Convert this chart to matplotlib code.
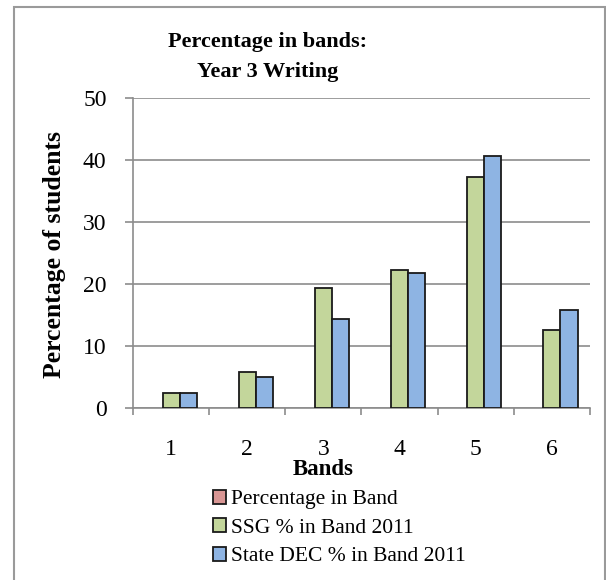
import matplotlib
matplotlib.use("Agg")
import matplotlib.pyplot as plt
from matplotlib.patches import Rectangle
import numpy as np

# Data
bands = ["1", "2", "3", "4", "5", "6"]
series_names = ["Percentage in Band", "SSG % in Band 2011", "State DEC % in Band 2011"]
pct_in_band = [0, 0, 0, 0, 0, 0]
ssg_2011 = [2.4, 5.8, 19.3, 22.2, 37.3, 12.6]
state_dec_2011 = [2.4, 5.0, 14.4, 21.7, 40.7, 15.8]
y_ticks = [0, 10, 20, 30, 40, 50]

colors = ["#D99694", "#C3D69B", "#8EB4E3"]
FONT = "Liberation Serif"
plt.rcParams["font.family"] = FONT

W, H = 606, 580
fig = plt.figure(figsize=(W / 100, H / 100), dpi=100)
fig.patch.set_facecolor("white")

# outer chart frame
fig.add_artist(Rectangle((14 / W, -0.05), (605 - 14) / W, 1.05 - 7 / H,
                         transform=fig.transFigure, fill=False,
                         edgecolor="#9a9a9a", linewidth=1.5))

ax = fig.add_axes([133 / W, (H - 408) / H, (590 - 133) / W, (408 - 98) / H])
x = np.arange(len(bands))
w = 0.224
all_series = [pct_in_band, ssg_2011, state_dec_2011]
for i, (vals, c, name) in enumerate(zip(all_series, colors, series_names)):
    lw = 1.3 if any(v > 0 for v in vals) else 0
    ax.bar(x + (i - 1) * w, vals, width=w, color=c, edgecolor="#1a1a1a",
           linewidth=lw, label=name, zorder=3)

ax.set_xlim(-0.5, len(bands) - 0.5)
ax.set_ylim(0, 50)
ax.set_yticks(y_ticks)
ax.set_yticklabels([str(t) for t in y_ticks], fontsize=17)
ax.yaxis.grid(True, color="#8c8c8c", linewidth=1.2, zorder=0)
ax.set_axisbelow(True)

ax.set_xticks(x)
ax.set_xticklabels(bands, fontsize=17)
ax.tick_params(axis="x", length=0, pad=22)
ax.set_xticks(np.arange(-0.5, len(bands), 1), minor=True)
ax.tick_params(axis="x", which="minor", length=5, width=1.2, color="#8c8c8c")
ax.tick_params(axis="y", length=6, width=1.2, color="#8c8c8c", pad=13)

for s in ["top", "right"]:
    ax.spines[s].set_visible(False)
ax.spines["left"].set_color("#8c8c8c")
ax.spines["left"].set_linewidth(1.2)
ax.spines["bottom"].set_color("#8c8c8c")
ax.spines["bottom"].set_linewidth(1.2)

fig.text(268 / W, 1 - 57 / H, "Percentage in bands:\nYear 3 Writing",
         ha="center", va="center", fontsize=16, fontweight="bold",
         linespacing=1.6)
fig.text(55 / W, 1 - 254 / H, "Percentage of students", rotation=90,
         ha="center", va="center", fontsize=18.5, fontweight="bold")
fig.text(323 / W, 1 - 459 / H, "Bands", ha="center", va="top",
         fontsize=16.5, fontweight="bold")

handles = [Rectangle((0, 0), 1, 1, facecolor=c, edgecolor="#1a1a1a", linewidth=1.3)
           for c in colors]
fig.legend(handles, series_names, loc="upper left",
           bbox_to_anchor=(213 / W, 1 - 490 / H), frameon=False, fontsize=15.5,
           handlelength=0.6, handleheight=0.6, handletextpad=0.25,
           labelspacing=0.42, borderpad=0, borderaxespad=0)

fig.savefig("out.png", dpi=100, facecolor="white")
